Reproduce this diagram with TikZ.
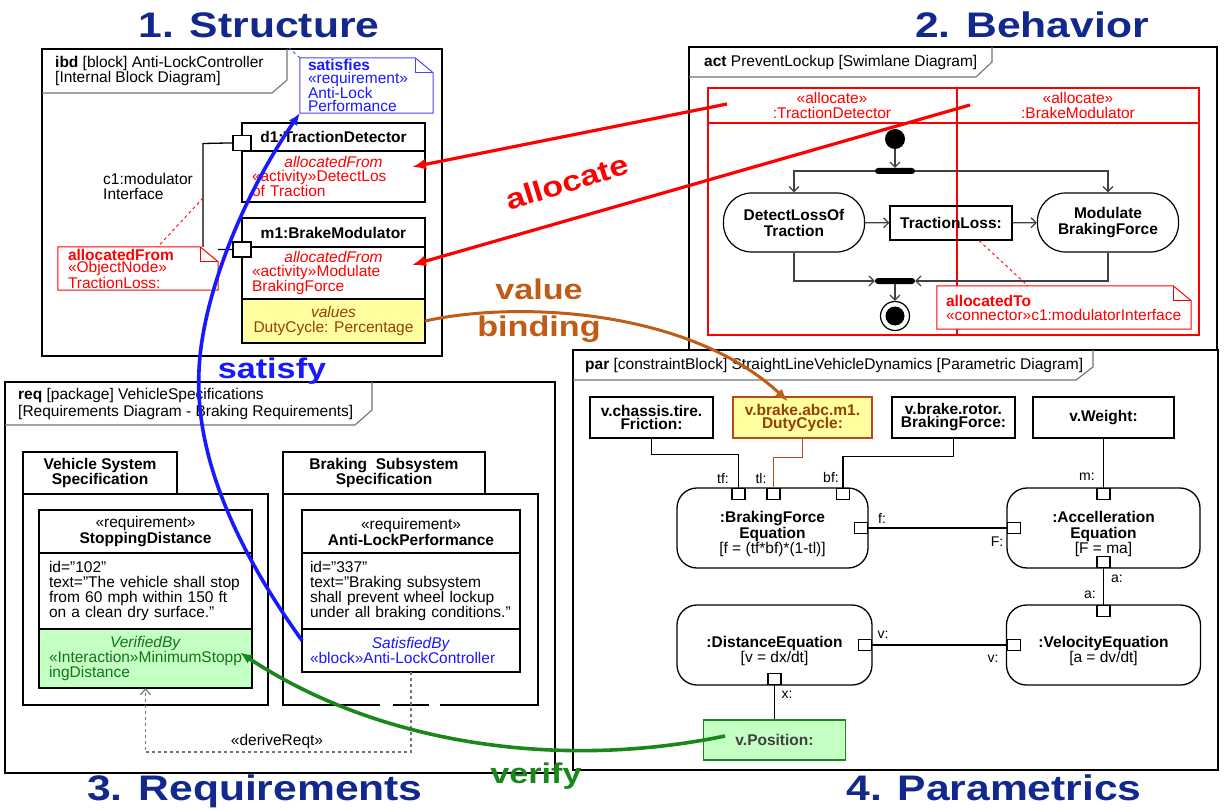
\documentclass[tikz,border=0pt]{standalone}
\usepackage{fontspec}
\setmainfont{Liberation Sans}
\newfontfamily\bigfont{Liberation Sans}[FakeStretch=1.2]
\usetikzlibrary{positioning,arrows.meta}

\definecolor{titleblue}{RGB}{18,40,140}
\definecolor{allocred}{RGB}{255,0,0}
\definecolor{satblue}{RGB}{25,25,255}
\definecolor{noteblue}{RGB}{70,70,255}
\definecolor{bindbrown}{RGB}{192,92,22}
\definecolor{verigreen}{RGB}{25,135,25}
\definecolor{valyellow}{RGB}{255,255,160}
\definecolor{verifill}{RGB}{196,255,196}
\definecolor{dutybrown}{RGB}{150,62,10}
\definecolor{dutyline}{RGB}{185,75,25}

\newcommand\dogear[2]{%
  \draw[#2, line width=1pt] (#1.north west) -- ([xshift=-18pt]#1.north east)
    -- ([yshift=-15pt]#1.north east) -- (#1.south east) -- (#1.south west) -- cycle;
  \draw[#2, line width=1pt] ([xshift=-18pt]#1.north east) |- ([yshift=-15pt]#1.north east);}
\newcommand\midline[1]{\hspace*{\fill}#1\hspace*{\fill}\mbox{}}

\begin{document}
\begin{tikzpicture}[x=1pt, y=-1pt,
    sysframe/.style={draw, line width=1.8pt},
    frametab/.style={draw=black!55, line width=1.1pt},
    headline/.style={font=\bigfont\bfseries\fontsize{35.5}{36}\selectfont, text=titleblue, anchor=base, inner sep=0pt},
    biglabel/.style={font=\bigfont\bfseries\fontsize{28.5}{37}\selectfont, inner sep=0pt, align=center},
    frame label/.style={anchor=west, align=left, inner sep=0pt},
    blk/.style={draw, line width=1.4pt, fill=white, inner sep=0pt, outer sep=0pt, align=center},
    blkbody/.style={blk, align=left, inner xsep=10pt},
    port/.style={draw, fill=white, line width=1.2pt, inner sep=0pt, minimum width=18pt, minimum height=15pt},
    pport/.style={draw, fill=white, line width=1.2pt, inner sep=0pt, minimum width=13pt, minimum height=11pt},
    conn/.style={line width=1.3pt},
    note/.style={fill=white, inner sep=0pt, align=left},
    lane/.style={draw=allocred, line width=1.2pt},
    action/.style={draw, line width=1.2pt, rounded corners=28pt, minimum width=141pt, minimum height=59pt,
        font=\bfseries\fontsize{15.5}{16}\selectfont, align=center, inner sep=0pt},
    flow/.style={draw=black!75, line width=1.2pt, -{Straight Barb[length=5pt,width=10pt]}},
    bar/.style={fill=black, rounded corners=3pt, minimum width=40pt, minimum height=6pt, inner sep=0pt},
    valbox/.style={draw, line width=1.3pt, minimum height=41pt, inner sep=0pt, align=center,
        font=\bfseries\fontsize{15.5}{13}\selectfont},
    cblock/.style={draw, line width=1.3pt, rounded corners=20pt, minimum height=80pt, inner sep=0pt, outer sep=0pt},
    ctext/.style={align=center, inner sep=0pt, font=\fontsize{15.5}{15.5}\selectfont},
    plabel/.style={font=\fontsize{14}{14}\selectfont, inner sep=0pt},
    allocarrow/.style={allocred, line width=3.2pt, -{Latex[length=14pt,width=11pt]}},
    allocdash/.style={allocred, dashed, line width=0.9pt},
  ]
  \fontsize{15.5}{15}\selectfont
  \useasboundingbox (0,0) rectangle (1225,810);

  \node[headline] (ttl1) at (259,38) {1. Structure};
  \node[headline] (ttl2) at (1032,38) {2. Behavior};
  \node[headline] (ttl3) at (255,800) {3. Requirements};
  \node[headline] (ttl4) at (994,800) {4. Parametrics};

  % structure
  \draw[sysframe] (42,49) rectangle (442,356);
  \draw[frametab] (42,93) -- (272,93) -- (287,80) -- (287,49);
  \node[frame label] (ibdlbl) at (55,71) {\textbf{ibd} [block] Anti-LockController\\ {[}Internal Block Diagram]};

  \node[note, text width=117pt, minimum height=55pt, inner xsep=8pt, text=satblue,
        font=\fontsize{15.5}{13}\selectfont] (satnote) at (366.5,85.5)
        {\textbf{satisfies}\\«requirement»\\Anti-Lock\\Performance};
  \dogear{satnote}{noteblue}
  \coordinate (ibdcorner) at (289,48);
  \draw[noteblue, dashed, line width=0.9pt] (satnote.north west) -- (ibdcorner);

  \node[blk, minimum width=183pt, minimum height=28pt, font=\bfseries] (d1head) at (333.5,137) {d1:TractionDetector};
  \node[blkbody, text width=163pt, minimum height=51pt, text=allocred, font=\fontsize{15.5}{13.5}\selectfont,
        below=0pt of d1head] (d1body)
        {\midline{\textit{allocatedFrom}}\\«activity»DetectLos\\of Traction};
  \node[blk, minimum width=183pt, minimum height=29pt, font=\bfseries] (m1head) at (333.5,232.5) {m1:BrakeModulator};
  \node[blkbody, text width=163pt, minimum height=52pt, text=allocred, font=\fontsize{15.5}{13.5}\selectfont,
        below=0pt of m1head] (m1body)
        {\midline{\textit{allocatedFrom}}\\«activity»Modulate\\BrakingForce};
  \node[blk, minimum width=183pt, minimum height=44pt, fill=valyellow, text=dutybrown,
        below=0pt of m1body] (m1vals) {\textit{values}\\DutyCycle: Percentage};

  \node[port, anchor=south] (d1port) at (d1head.south west) {};
  \node[port] (m1port) at ([yshift=-2.5pt]m1head.south west) {};
  \coordinate (c1bend) at (203,143.5);
  \draw[conn] (d1port.west) -- (c1bend) |- (m1port.west);
  \node[frame label] (c1lbl) at (103,186) {c1:modulator\\Interface};

  \node[note, text width=140pt, minimum height=43pt, inner xsep=10pt, text=allocred,
        font=\fontsize{15.5}{12.5}\selectfont] (objnote) at (138,268.5)
        {\textbf{allocatedFrom}\\«ObjectNode»\\TractionLoss:};
  \dogear{objnote}{allocred}
  \coordinate (c1mid) at (203,198);
  \draw[allocdash] (c1mid) -- ([xshift=100pt]objnote.north west);

  % behavior
  \draw[sysframe] (689,47) rectangle (1217,350);
  \draw[frametab] (689,77) -- (976,77) -- (992,62) -- (992,47);
  \node[frame label] (actlbl) at (704,62) {\textbf{act} PreventLockup [Swimlane Diagram]};

  \draw[lane] (708,88) rectangle (1199,335);
  \draw[lane] (708,123) -- (1199,123) (957,88) -- (957,335);
  \node[text=allocred, align=center, inner sep=0pt] (lane1) at (832,105) {«allocate»\\:TractionDetector};
  \node[text=allocred, align=center, inner sep=0pt] (lane2) at (1078,105) {«allocate»\\:BrakeModulator};

  \node[circle, fill=black, minimum size=20pt, inner sep=0pt] (init) at (895,139) {};
  \node[bar] (fork) at (895,171) {};
  \node[action] (detect) at (794,222.5) {DetectLossOf\\Traction};
  \node[draw, line width=1.2pt, minimum width=122pt, minimum height=34pt, inner sep=0pt,
        font=\bfseries] (tloss) at (951,223) {TractionLoss:};
  \node[action] (modulate) at (1108,222.5) {Modulate\\BrakingForce};
  \node[bar] (join) at (895,281) {};
  \node[circle, draw, line width=1.2pt, minimum size=29pt, inner sep=0pt,
        path picture={\fill (path picture bounding box.center) circle (9.5pt);}] (final) at (895,316) {};

  \draw[flow] (init) -- (fork);
  \draw[flow] (fork) -| (detect);
  \draw[flow] (fork) -| (modulate);
  \draw[flow] (detect) -- (tloss);
  \draw[flow] (tloss) -- (modulate);
  \draw[flow] (detect) |- (join);
  \draw[flow] (modulate) |- (join);
  \draw[flow] (join) -- (final);

  \node[note, text width=236pt, minimum height=43pt, inner xsep=9pt, text=allocred,
        font=\fontsize{15.5}{14}\selectfont] (atnote) at (1064,307.5)
        {\textbf{allocatedTo}\\«connector»c1:modulatorInterface};
  \dogear{atnote}{allocred}
  \draw[allocdash] ([xshift=28pt]tloss.south) -- ([xshift=91pt]atnote.north west);

  % requirements
  \draw[sysframe] (5,382) rectangle (555,773);
  \draw[frametab] (5,425) -- (355,425) -- (372,410) -- (372,382);
  \node[frame label, font=\fontsize{15.5}{16.5}\selectfont] (reqlbl) at (18,404)
        {\textbf{req} [package] VehicleSpecifications\\ {[}Requirements Diagram - Braking Requirements]};

  \node[blk, minimum width=154pt, minimum height=42pt, font=\bfseries] (vsstab) at (100,473) {Vehicle System\\Specification};
  \draw[line width=1.4pt] (vsstab.south west) rectangle (268,705);
  \node[blk, minimum width=202pt, minimum height=42pt, font=\bfseries] (bsstab) at (384,473) {Braking\ \ Subsystem\\Specification};
  \draw[line width=1.4pt] (380,705) -- (283,705) -- (bsstab.south west) -- (538,494) -- (538,705) -- (440,705)
        (429,705) -- (393,705);

  \node[blk, minimum width=213pt, minimum height=43pt, font=\fontsize{15.5}{16}\selectfont] (sdhead) at (145.5,531.5)
        {«requirement»\\\textbf{StoppingDistance}};
  \node[blkbody, text width=193pt, minimum height=76pt, font=\fontsize{15.5}{15.3}\selectfont,
        below=0pt of sdhead] (sdbody)
        {id="102"\\text="The vehicle shall stop\\from 60 mph within 150 ft\\on a clean dry surface."};
  \node[blkbody, text width=193pt, minimum height=59pt, fill=verifill, text=verigreen!85!black,
        font=\fontsize{15.5}{15.3}\selectfont, below=0pt of sdbody] (verby)
        {\midline{\textit{VerifiedBy}}\\«Interaction»MinimumStopp\\ingDistance};

  \node[blk, minimum width=218pt, minimum height=43pt, font=\fontsize{15.5}{16}\selectfont] (alhead) at (411,531.5)
        {«requirement»\\\textbf{Anti-LockPerformance}};
  \node[blkbody, text width=202pt, inner xsep=8pt, minimum height=76pt, font=\fontsize{15.5}{15.3}\selectfont,
        below=0pt of alhead] (albody)
        {id="337"\\text="Braking subsystem\\shall prevent wheel lockup\\under all braking conditions."};
  \node[blkbody, text width=202pt, inner xsep=8pt, minimum height=43pt, text=satblue,
        font=\fontsize{15.5}{15.5}\selectfont, below=0pt of albody] (satby)
        {\midline{\textit{SatisfiedBy}}\\«block»Anti-LockController};

  \coordinate (drvbend) at (411,752);
  \draw[black!55, dashed, line width=1.1pt, -{Straight Barb[length=6pt,width=10pt]}]
        (satby.south) -- (drvbend) -| (verby.south);
  \node[inner sep=0pt] (drvlbl) at (277,741) {«deriveReqt»};

  % parametrics
  \draw[sysframe] (573,350) rectangle (1218,770);
  \draw[frametab] (573,380) -- (1076,380) -- (1093,367) -- (1093,350);
  \node[frame label] (parlbl) at (585,365)
        {\textbf{par} [constraintBlock] StraightLineVehicleDynamics [Parametric Diagram]};

  \node[valbox, minimum width=123pt] (chassis) at (651.5,417.5) {v.chassis.tire.\\Friction:};
  \node[valbox, minimum width=139pt, fill=valyellow, draw=dutyline, text=dutybrown] (duty) at (802.5,417.5)
        {v.brake.abc.m1.\\DutyCycle:};
  \node[valbox, minimum width=123pt] (rotor) at (953.5,417.5) {v.brake.rotor.\\BrakingForce:};
  \node[valbox, minimum width=141pt] (weight) at (1103.5,417.5) {v.Weight:};

  \node[cblock, minimum width=191pt] (bfeq) at (772.5,528) {};
  \node[cblock, minimum width=193pt] (acceq) at (1103.5,528) {};
  \node[cblock, minimum width=195pt] (disteq) at (774.5,645) {};
  \node[cblock, minimum width=194pt] (veleq) at (1103.5,645) {};
  \node[ctext] (bftxt) at ([yshift=-6pt]bfeq.center)
        {\textbf{:BrakingForce}\\\textbf{Equation}\\{[}f = (tf*bf)*(1-tl)]};
  \node[ctext] (acctxt) at ([yshift=-6pt]acceq.center)
        {\textbf{:Accelleration}\\\textbf{Equation}\\{[}F = ma]};
  \node[ctext, font=\fontsize{15.5}{13}\selectfont] (disttxt) at ([yshift=-6pt]disteq.center)
        {\textbf{:DistanceEquation}\\{[}v = dx/dt]};
  \node[ctext, font=\fontsize{15.5}{13}\selectfont] (veltxt) at ([yshift=-6pt]veleq.center)
        {\textbf{:VelocityEquation}\\{[}a = dv/dt]};

  \node[pport, anchor=north] (tfp) at ([xshift=-34pt]bfeq.north) {};
  \node[pport, anchor=north] (tlp) at ([xshift=1pt]bfeq.north) {};
  \node[pport, anchor=north] (bfp) at ([xshift=70.5pt]bfeq.north) {};
  \node[pport, anchor=east] (fp) at (bfeq.east) {};
  \node[pport, anchor=north] (mp) at (acceq.north) {};
  \node[pport, anchor=west] (Fp) at (acceq.west) {};
  \node[pport, anchor=south] (ap1) at (acceq.south) {};
  \node[pport, anchor=north] (ap2) at (veleq.north) {};
  \node[pport, anchor=east] (vp1) at (disteq.east) {};
  \node[pport, anchor=west] (vp2) at (veleq.west) {};
  \node[pport, anchor=south] (xp) at (disteq.south) {};

  \node[valbox, minimum width=142pt, minimum height=40pt, fill=verifill, draw=verigreen, text=black!75]
        (vpos) at (774.5,740) {v.Position:};

  \draw[conn] (chassis.south) -- ++(0,16) -| (tfp.north);
  \draw[conn, dutyline] (duty.south) -- ++(0,19) -| (tlp.north);
  \draw[conn] (rotor.south) -- ++(0,18) -| (bfp.north);
  \draw[conn] (weight) -- (mp);
  \draw[conn] (fp) -- (Fp);
  \draw[conn] (ap1) -- (ap2);
  \draw[conn] (vp1) -- (vp2);
  \draw[conn] (xp) -- (vpos);

  \foreach \n/\lbl/\x/\y in {tf/tf:/723/478, tl/tl:/761/478, bf/bf:/831/477, m/m:/1087/477,
      f/f:/882/518, F/F:/997/542, a1/a:/1117/579, a2/a:/1090/595,
      v1/v:/883/635, v2/v:/993/659, x/x:/787/695}
    \node[plabel] (lbl\n) at (\x,\y) {\lbl};

  % cross-diagram relations
  \coordinate (tdhead) at (727,104);
  \coordinate (bmhead) at (970,105);
  \draw[allocarrow] (tdhead) -- ([xshift=-13pt,yshift=9.5pt]d1body.east);
  \draw[allocarrow] (bmhead) -- ([xshift=-13pt,yshift=8pt]m1body.east);
  \node[biglabel, text=allocred, rotate=17] (alloclbl) at (567,182) {allocate};

  \draw[bindbrown, line width=3pt, -{Latex[length=13pt,width=10pt]}] (m1vals.east)
        .. controls (520,300) and (690,310) .. ([xshift=-14.5pt,yshift=-5pt]duty.north);
  \node[biglabel, text=bindbrown] (bindlbl) at (539,311) {value\\binding};

  \draw[satblue, line width=3.6pt, -{Latex[length=12pt,width=10pt]}] ([yshift=10pt]satby.west)
        .. controls (230,540) and (195,450) .. (199,370)
        .. controls (202,300) and (240,200) .. (satnote.south west);
  \node[biglabel, text=satblue] (satlbl) at (272,371) {satisfy};

  \draw[verigreen, line width=3.6pt, -{Latex[length=12pt,width=10pt]}] ([xshift=-49.5pt,yshift=4pt]vpos.center)
        .. controls (560,770) and (380,745) .. ([xshift=-12pt,yshift=6pt]verby.east);
  \node[biglabel, text=verigreen] (verlbl) at (536,776) {verify};
\end{tikzpicture}
\end{document}
